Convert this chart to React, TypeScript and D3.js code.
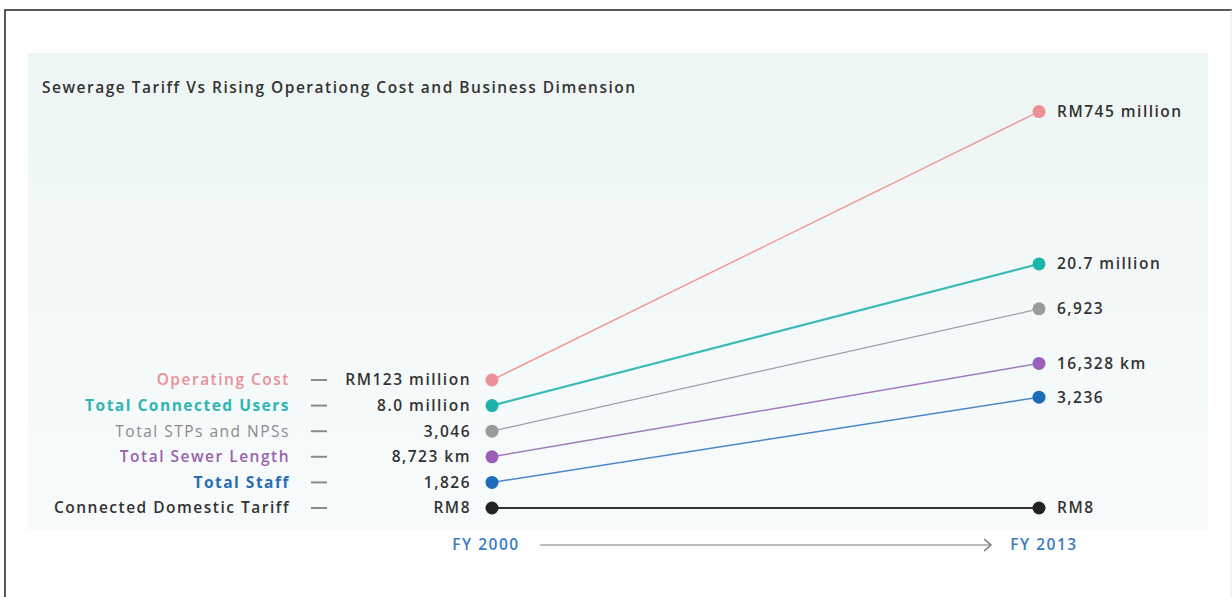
import React from "react";
import * as d3 from "d3";

const title = "Sewerage Tariff Vs Rising Operationg Cost and Business Dimension";
const periods = ["FY 2000", "FY 2013"];
const categories = [
  "Operating Cost",
  "Total Connected Users",
  "Total STPs and NPSs",
  "Total Sewer Length",
  "Total Staff",
  "Connected Domestic Tariff",
];
const startValues = [123, 8.0, 3046, 8723, 1826, 8];
const endValues = [745, 20.7, 6923, 16328, 3236, 8];
const startLabels = ["RM123 million", "8.0 million", "3,046", "8,723 km", "1,826", "RM8"];
const endLabels = ["RM745 million", "20.7 million", "6,923", "16,328 km", "3,236", "RM8"];
const colors = ["#ec8f96", "#1db3ad", "#9a9a9a", "#9860b8", "#1d6cba", "#222222"];
const lineColors = ["#ee9a98", "#3bb9b6", "#a49aa6", "#a27bbb", "#4a86c6", "#333333"];
const labelColors = ["#ec9096", "#2fb5b4", "#8a8a8a", "#9a62ae", "#2a6cb3", "#333333"];
const labelWeights = [600, 700, 400, 600, 700, 600];
const lineWidths = [1.5, 2.2, 1.2, 1.5, 1.5, 2];

export default function App() {
  const W = 1232;
  const H = 597;
  const x = d3.scalePoint<string>().domain(periods).range([492, 1039]);
  const yRow = d3.scalePoint<string>().domain(categories).range([380, 508]);
  // growth (end/start) shown as upward rise on a log scale
  const rise = d3.scaleLog().domain([1, 10]).range([0, 149 * Math.LN10]);

  const font = "'Open Sans', Lato, sans-serif";
  const fs = 15.5;
  const ls = 1.5;
  const rows = categories.map((c, i) => {
    const y0 = yRow(c) as number;
    const y1 = y0 - rise(endValues[i] / startValues[i]);
    return { c, i, y0, y1 };
  });
  const x0 = x(periods[0]) as number;
  const x1 = x(periods[1]) as number;
  const axisY = 545;

  return (
    <div style={{ position: "absolute", left: 0, top: 0 }}>
      <svg width={W} height={H} style={{ display: "block" }}>
        <defs>
          <linearGradient id="bg" x1="0" y1="0" x2="0" y2="1">
            <stop offset="0%" stopColor="#edf6f4" />
            <stop offset="100%" stopColor="#f8fbfc" />
          </linearGradient>
        </defs>
        <rect x={0} y={0} width={W} height={H} fill="#ffffff" />
        <rect x={28} y={53} width={1180} height={477} fill="url(#bg)" />
        <path d={`M5,${H} L5,10 L${W},10`} fill="none" stroke="#222" strokeWidth={1.5} />
        <line x1={1231} y1={10} x2={1231} y2={H} stroke="#e6e6e6" strokeWidth={1} />

        <text x={42} y={88} dy="0.35em" fontFamily={font} fontSize={fs} fontWeight={600} letterSpacing={ls} fill="#333">
          {title}
        </text>

        {rows.map((r) => (
          <line
            key={"l" + r.i}
            x1={x0}
            y1={r.y0}
            x2={x1}
            y2={r.y1}
            stroke={lineColors[r.i]}
            strokeWidth={lineWidths[r.i]}
          />
        ))}

        {rows.map((r) => (
          <g key={"g" + r.i}>
            <text
              x={290}
              y={r.y0}
              dy="0.35em"
              textAnchor="end"
              fontFamily={font}
              fontSize={fs}
              fontWeight={labelWeights[r.i]}
              letterSpacing={ls}
              fill={labelColors[r.i]}
            >
              {r.c}
            </text>
            <line x1={311} x2={327} y1={r.y0} y2={r.y0} stroke="#8c8c8c" strokeWidth={2} />
            <text
              x={471}
              y={r.y0}
              dy="0.35em"
              textAnchor="end"
              fontFamily={font}
              fontSize={fs}
              fontWeight={600}
              letterSpacing={ls}
              fill="#333"
            >
              {startLabels[r.i]}
            </text>
            <circle cx={x0} cy={r.y0} r={6.5} fill={colors[r.i]} />
            <circle cx={x1} cy={r.y1} r={6.5} fill={colors[r.i]} />
            <text
              x={1057}
              y={r.y1}
              dy="0.35em"
              fontFamily={font}
              fontSize={fs}
              fontWeight={600}
              letterSpacing={ls}
              fill="#333"
            >
              {endLabels[r.i]}
            </text>
          </g>
        ))}

        <text x={x0 - 6} y={axisY} dy="0.35em" textAnchor="middle" fontFamily={font} fontSize={fs} fontWeight={600} letterSpacing={ls} fill="#3a7cc2">
          {periods[0]}
        </text>
        <text x={x1 + 5} y={axisY} dy="0.35em" textAnchor="middle" fontFamily={font} fontSize={fs} fontWeight={600} letterSpacing={ls} fill="#3a7cc2">
          {periods[1]}
        </text>
        <line x1={540} x2={990} y1={axisY} y2={axisY} stroke="#7a7a7a" strokeWidth={1.2} />
        <path d={`M984,${axisY - 6} L991,${axisY} L984,${axisY + 6}`} fill="none" stroke="#666" strokeWidth={1.2} />
      </svg>
    </div>
  );
}
